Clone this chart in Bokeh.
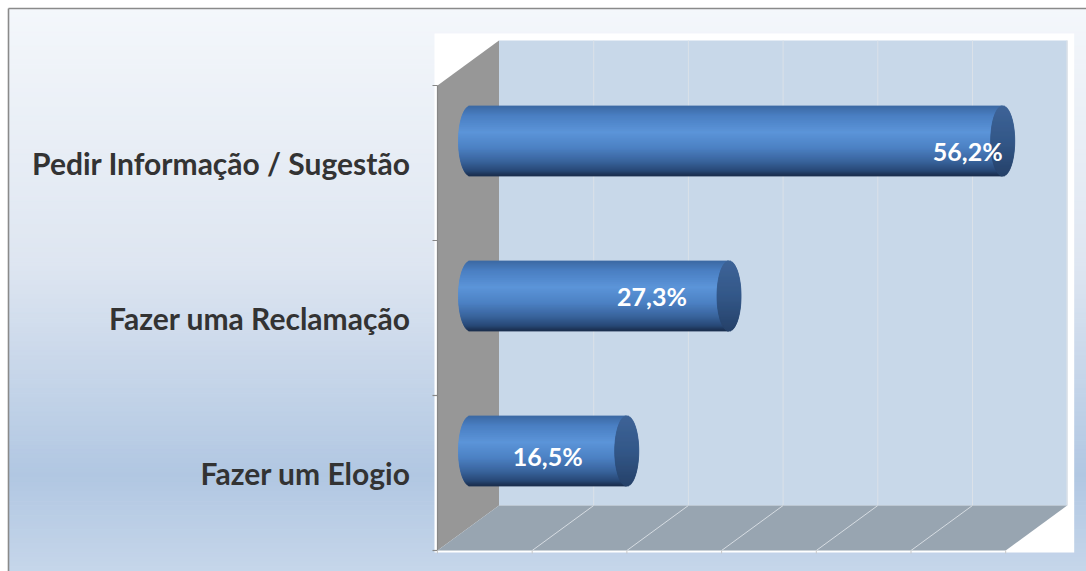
import numpy as np
from bokeh.plotting import figure
from bokeh.models import Range1d
from bokeh.core.properties import value
from bokeh.embed import file_html
from bokeh.resources import INLINE

# ---------------- data ----------------
categories = ["Fazer um Elogio", "Fazer uma Reclamação", "Pedir Informação / Sugestão"]
values = [16.5, 27.3, 56.2]
value_labels = ["16,5%", "27,3%", "56,2%"]
x_ticks = [0, 10, 20, 30, 40, 50, 60]

# ---------------- layout / style ----------------
W, H = 1086, 571
PX_X = 9.47          # pixels per percent
PX_Y = 155.0         # pixels per category band
FRONT_X0 = 437       # figure px of 0 % on the front plane
FRONT_Y0 = 550       # figure px (from top) of the floor front edge
BORDER = 8           # outer chart border position (px)

x_start = -FRONT_X0 / PX_X
x_end = (W - FRONT_X0) / PX_X
y_end = FRONT_Y0 / PX_Y
y_start = -(H - FRONT_Y0) / PX_Y


def dxp(px):
    return px / PX_X


def dyp(px):
    return px / PX_Y


XMAX = x_ticks[-1]
NCAT = len(categories)
DX, DY = dxp(61.5), dyp(45)          # depth of the 3-D box
BAR_DX, BAR_DY = dxp(33), dyp(22)    # bar position inside depth
BAR_HALF = dyp(35)                   # half thickness of cylinder
CAP_RX = dxp(12)                     # cap ellipse x-radius

# label nudges (px): right (+) / down (+)
label_nudge = [(-79, 5), (-77, 0), (-35, 10)]


def hexc(c):
    return "#%02x%02x%02x" % tuple(int(round(v)) for v in c)


def interp(stops, f):
    for (f0, c0), (f1, c1) in zip(stops[:-1], stops[1:]):
        if f <= f1:
            t = (f - f0) / (f1 - f0) if f1 > f0 else 0.0
            return hexc([a + (b - a) * t for a, b in zip(c0, c1)])
    return hexc(stops[-1][1])


bg_stops = [(0.0, (244, 247, 251)), (0.45, (222, 230, 241)),
            (0.83, (177, 199, 226)), (1.0, (198, 214, 234))]
body_stops = [(0.0, (60, 104, 162)), (0.14, (74, 127, 194)), (0.38, (92, 149, 217)),
              (0.6, (77, 130, 196)), (0.8, (57, 99, 156)), (0.93, (40, 72, 118)),
              (1.0, (27, 46, 77))]
cap_stops = [(0.0, (62, 100, 152)), (0.5, (52, 88, 137)), (1.0, (38, 66, 106))]

p = figure(width=W, height=H, x_range=Range1d(x_start, x_end), y_range=Range1d(y_start, y_end),
           output_backend="svg", toolbar_location=None, min_border=0)
p.axis.visible = False
p.grid.visible = False
p.outline_line_color = None
p.background_fill_color = "white"
p.border_fill_color = "white"

# ---- outer gradient background (inside the chart border) ----
bx0 = x_start + dxp(BORDER)
by0 = y_end - dyp(BORDER)
N = 120
ys = np.linspace(by0, y_start, N + 1)
bg_cols = [interp(bg_stops, (k + 0.5) / N) for k in range(N)]
p.quad(left=bx0, right=x_end, top=ys[:-1], bottom=ys[1:], fill_color=bg_cols,
       line_color=bg_cols, line_width=1)

# outer border (left & top)
p.segment(x0=[bx0, bx0], y0=[y_start, by0], x1=[bx0, x_end], y1=[by0, by0],
          line_color="#8a8a8a", line_width=1.6)

# ---- white plot area ----
p.quad(left=-dxp(3), right=XMAX + DX + dxp(7), top=NCAT + DY + dyp(7), bottom=-dyp(2),
       fill_color="white", line_color=None)

# ---- back wall ----
p.quad(left=DX, right=XMAX + DX, top=NCAT + DY, bottom=DY, fill_color="#c8d8e9", line_color=None)
gx = [t + DX for t in x_ticks[1:-1]]
p.segment(x0=gx, y0=DY, x1=gx, y1=NCAT + DY, line_color="#dbe1e8", line_width=1)
p.segment(x0=[XMAX + DX], y0=DY, x1=[XMAX + DX], y1=NCAT + DY, line_color="#dfe4ea", line_width=1.5)

# ---- left side wall ----
p.patch(x=[0, 0, DX, DX], y=[0, NCAT, NCAT + DY, DY], fill_color="#979797", line_color=None)

# ---- floor ----
p.patch(x=[0, DX, XMAX + DX, XMAX], y=[0, DY, DY, 0], fill_color="#98a5b1", line_color=None)
fx = x_ticks[1:-1]
p.segment(x0=fx, y0=0, x1=[t + DX for t in fx], y1=DY, line_color="#d6dce2", line_width=1)

# ---- axes lines & ticks ----
p.segment(x0=[0], y0=[0], x1=[0], y1=[NCAT], line_color="#878787", line_width=1.2)
cat_edges = list(range(NCAT + 1))
p.segment(x0=-dxp(5), y0=cat_edges, x1=0, y1=cat_edges, line_color="#878787", line_width=1.2)
p.segment(x0=x_ticks, y0=0, x1=x_ticks, y1=-dyp(3), line_color="#c8c8c8", line_width=1)

# ---- cylinders ----
NS = 70
for i, v in enumerate(values):
    yc = i + 0.5 + BAR_DY
    x0 = BAR_DX
    tops, bots, lefts, rights, cols = [], [], [], [], []
    ctops, cbots, clefts, crights, ccols = [], [], [], [], []
    for j in range(NS):
        f0, f1 = j / NS, (j + 1) / NS
        fm = (f0 + f1) / 2
        tt = 2 * fm - 1
        half_w = CAP_RX * np.sqrt(max(0.0, 1 - tt * tt))
        top = yc + BAR_HALF * (1 - 2 * f0)
        bot = yc + BAR_HALF * (1 - 2 * f1)
        tops.append(top); bots.append(bot)
        lefts.append(x0 - half_w); rights.append(x0 + v)
        cols.append(interp(body_stops, fm))
        ctops.append(top); cbots.append(bot)
        clefts.append(x0 + v - half_w); crights.append(x0 + v + half_w)
        ccols.append(interp(cap_stops, fm))
    p.quad(left=lefts, right=rights, top=tops, bottom=bots, fill_color=cols,
           line_color=cols, line_width=0.8)
    p.quad(left=clefts, right=crights, top=ctops, bottom=cbots, fill_color=ccols,
           line_color=ccols, line_width=0.8)

# ---- value labels ----
lx = [BAR_DX + v + dxp(n[0]) for v, n in zip(values, label_nudge)]
ly = [i + 0.5 + BAR_DY - dyp(n[1]) for i, n in enumerate(label_nudge)]
p.text(x=lx, y=ly, text=value_labels, text_font=value("Lato"), text_font_style="bold",
       text_font_size="25px", text_color="white", text_align="center", text_baseline="middle")

# ---- category labels ----
cx = [dxp(410 - FRONT_X0)] * NCAT
cy = [i + 0.5 + dyp(0.5) for i in range(NCAT)]
p.text(x=cx, y=cy, text=categories, text_font=value("Lato"), text_font_style="bold",
       text_font_size="30px", text_color="#333333", text_align="right", text_baseline="middle")

open("out.html", "w").write(file_html(p, INLINE))
